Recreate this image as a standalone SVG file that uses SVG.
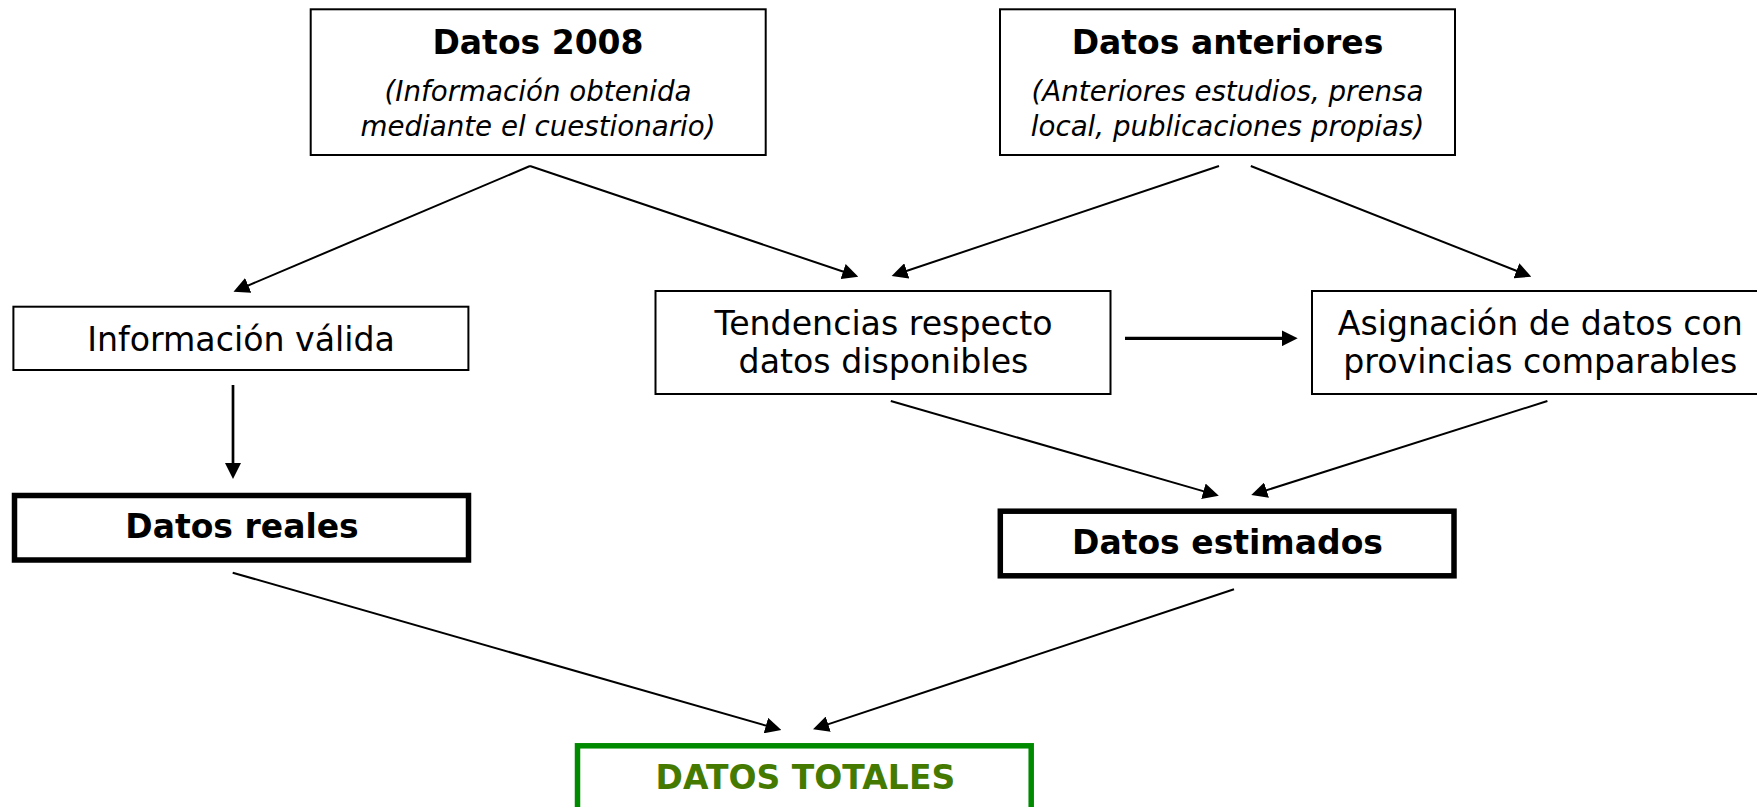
<svg xmlns="http://www.w3.org/2000/svg" width="1757" height="807" viewBox="0 0 1757 807">
<style>
.box{fill:#fff;stroke:#000;stroke-width:2}
.thick{fill:#fff;stroke:#000;stroke-width:5.5}
.green{fill:#fff;stroke:#008a00;stroke-width:5.5}
text{font-family:"DejaVu Sans",Verdana,sans-serif;text-anchor:middle;fill:#000}
.b{font-weight:bold;font-size:33px}
.r{font-size:33.2px}
.i{font-style:italic;font-size:27.7px}
.gt{fill:#457a00}
.c{stroke:#000;stroke-width:2;fill:none;marker-end:url(#ah)}
</style>
<defs>
<marker id="ah" markerUnits="userSpaceOnUse" markerWidth="16" markerHeight="16" viewBox="0 0 16 16" refX="6" refY="8" orient="auto">
<path d="M0,0 L16,8 L0,16 z" fill="#000"/>
</marker>
</defs>
<rect width="1757" height="807" fill="#fff"/>
<g id="connectors">
<line class="c" x1="530" y1="166" x2="242.7" y2="287.8"/>
<line class="c" x1="530" y1="166" x2="848.8" y2="273.5"/>
<line class="c" x1="1219" y1="166" x2="901.1" y2="272.8"/>
<line class="c" x1="1250.8" y1="166" x2="1522" y2="273"/>
<line class="c" x1="1125" y1="338.3" x2="1287.7" y2="338.3" style="stroke-width:3.3"/>
<line class="c" x1="233" y1="385" x2="233" y2="469" style="stroke-width:2.7"/>
<line class="c" x1="890.8" y1="401" x2="1209.2" y2="492.9"/>
<line class="c" x1="1547.4" y1="401" x2="1260.8" y2="492"/>
<line class="c" x1="232.7" y1="572.7" x2="771.7" y2="727.2"/>
<line class="c" x1="1234" y1="589.3" x2="822.5" y2="726.1"/>
</g>
<g id="datos2008">
<rect class="box" x="310.7" y="9.3" width="455" height="145.7"/>
<text class="b" x="538" y="53.5">Datos 2008</text>
<text class="i" x="538" y="101">(Información obtenida</text>
<text class="i" x="538" y="135.5">mediante el cuestionario)</text>
</g>
<g id="datosAnteriores">
<rect class="box" x="1000" y="9.3" width="455" height="145.7"/>
<text class="b" x="1227.5" y="53.5">Datos anteriores</text>
<text class="i" x="1227.5" y="101">(Anteriores estudios, prensa</text>
<text class="i" x="1227.5" y="135.5">local, publicaciones propias)</text>
</g>
<g id="informacionValida">
<rect class="box" x="13.4" y="306.7" width="455" height="63.3"/>
<text class="r" x="241" y="350.5">Información válida</text>
</g>
<g id="tendencias">
<rect class="box" x="655.5" y="291" width="455" height="103"/>
<text class="r" x="883.5" y="334.5">Tendencias respecto</text>
<text class="r" x="883.5" y="372.5">datos disponibles</text>
</g>
<g id="asignacion">
<rect class="box" x="1312" y="291" width="456" height="103"/>
<text class="r" x="1540.3" y="334.5">Asignación de datos con</text>
<text class="r" x="1540.3" y="372.5">provincias comparables</text>
</g>
<g id="datosReales">
<rect class="thick" x="14.5" y="495.5" width="454" height="64.5"/>
<text class="b" x="242" y="538">Datos reales</text>
</g>
<g id="datosEstimados">
<rect class="thick" x="1000.3" y="511.2" width="453.7" height="64.6"/>
<text class="b" x="1227.5" y="554.3">Datos estimados</text>
</g>
<g id="datosTotales">
<rect class="green" x="577.5" y="745.8" width="453.7" height="90"/>
<text class="b gt" x="805.4" y="788.5">DATOS TOTALES</text>
</g>
</svg>
